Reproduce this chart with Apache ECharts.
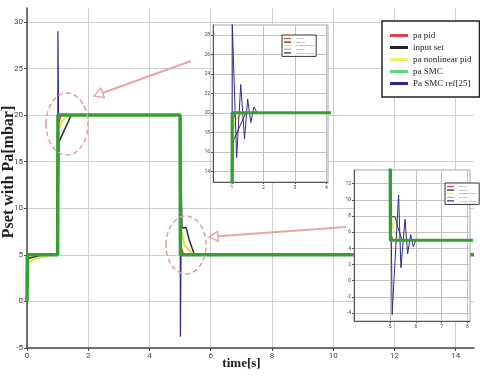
<!DOCTYPE html>
<html>
<head>
<meta charset="utf-8">
<script src="https://cdn.jsdelivr.net/npm/echarts@6/dist/echarts.min.js"></script>
<style>
  html, body { margin: 0; padding: 0; background: #fff; }
  #chart { width: 480px; height: 378px; }
</style>
</head>
<body>
<div id="chart"></div>
<script>
// series names, legend order
const legendNames = ['pa pid', 'input set', 'pa nonlinear pid', 'pa SMC', 'Pa SMC ref[25]'];
const yTitle = 'Pset with Pa[mbar]';

// [time s, pressure mbar]
const paPid = [[0, 0], [0.03, 5], [1, 5], [1.01, 19], [1.12, 20], [5, 20], [5.01, 6], [5.12, 5], [14.6, 5]];
const inputSet = [[0, 0], [0.04, 4.6], [0.5, 5], [1, 5], [1.04, 17.1], [1.1, 17.3], [1.25, 18.6], [1.43, 19.9], [1.5, 20],
  [5, 20], [5.06, 7.9], [5.2, 7.9], [5.3, 6.6], [5.47, 5], [14.6, 5]];
const paNonlinearPid = [[0, 0], [0.03, 4.2], [0.3, 4.6], [0.8, 5], [1, 5], [1.03, 18.5], [1.15, 19.4], [1.35, 20],
  [5, 20], [5.02, 8], [5.15, 6], [5.4, 5.1], [5.6, 5], [14.6, 5]];
const paSmc = [[0, 0], [0.01, 5], [1, 5], [1.01, 20], [5, 20], [5.01, 5], [14.6, 5]];
// zoomed views show the ringing of ref[25]
const paSmcRef = [[0, 0], [0.02, 5], [1, 5], [1.01, 29.2], [1.15, 15.4], [1.28, 22.9], [1.4, 17.3], [1.5, 21.4], [1.6, 19.0],
  [1.7, 20.6], [1.8, 20], [5, 20], [5.08, -4.2], [5.33, 10.6], [5.42, 1.6], [5.58, 7.6], [5.68, 3.3], [5.8, 5.7],
  [5.9, 4.2], [6.0, 5], [14.6, 5]];
// full view only shows the two spikes
const paSmcRefFull = [[0, 0], [0.02, 5], [1, 5], [1.01, 29], [1.03, 20], [5, 20], [5.01, -3.8], [5.03, 5], [14.6, 5]];

// tick values
const mainXTicks = [0, 2, 4, 6, 8, 10, 12, 14];
const mainYTicks = [-5, 0, 5, 10, 15, 20, 25, 30];
const zoom1XTicks = [1, 2, 3, 4];
const zoom1YTicks = [14, 16, 18, 20, 22, 24, 26, 28];
const zoom2XTicks = [5, 6, 7, 8];
const zoom2YTicks = [-4, -2, 0, 2, 4, 6, 8, 10, 12];

const chart = echarts.init(document.getElementById('chart'));

// drawing order: green on top
const lines = [
  { name: 'pa pid', data: [paPid, paPid], color: '#d83a3a', w: [1.5, 1] },
  { name: 'pa nonlinear pid', data: [paNonlinearPid, paNonlinearPid], color: '#e4e040', w: [2, 1.2] },
  { name: 'input set', data: [inputSet, inputSet], color: '#2e2e2e', w: [1.5, 1] },
  { name: 'Pa SMC ref[25]', data: [paSmcRefFull, paSmcRef], color: '#2c2c8c', w: [1.2, 1] },
  { name: 'pa SMC', data: [paSmc, paSmc], color: '#34a034', w: [3.5, 3.2] }
];
const legendColors = {
  'pa pid': '#d94848',
  'input set': '#222222',
  'pa nonlinear pid': '#f2ee6e',
  'pa SMC': '#5fd97a',
  'Pa SMC ref[25]': '#25258a'
};

const series = [];
[0, 1, 2].forEach(idx => {
  lines.forEach(l => {
    series.push({
      type: 'line',
      name: l.name,
      data: idx === 0 ? l.data[0] : l.data[1],
      xAxisIndex: idx,
      yAxisIndex: idx,
      showSymbol: false,
      symbol: 'none',
      z: idx === 0 ? 2 : 12,
      color: l.color,
      lineStyle: { color: l.color, width: idx === 0 ? l.w[0] : l.w[1] },
      clip: true
    });
  });
});

const serif = '"Liberation Serif", "DejaVu Serif", serif';

function mainAxis(extra) {
  return Object.assign({
    type: 'value',
    axisLine: { show: true, onZero: false, lineStyle: { color: '#4a4a4a', width: 1.5 } },
    splitLine: { show: true, lineStyle: { color: '#cfcfcf' } }
  }, extra);
}

function insetAxis(extra) {
  return Object.assign({
    type: 'value',
    z: 12,
    axisLine: { show: true, onZero: false, lineStyle: { color: '#555', width: 1 } },
    splitLine: { show: true, lineStyle: { color: '#c2c2c2' } }
  }, extra);
}

function mainTicks(values) {
  return {
    axisTick: { show: true, length: 3, customValues: values, lineStyle: { color: '#4a4a4a' } },
    axisLabel: { fontSize: 8, color: '#444', margin: 4, fontFamily: 'Roboto', customValues: values }
  };
}

function insetTicks(values) {
  return {
    axisTick: { show: true, length: 2, customValues: values, lineStyle: { color: '#555' } },
    axisLabel: { fontSize: 5, color: '#444', margin: 3, fontFamily: 'Roboto', customValues: values }
  };
}

function tinyLegend(left, top) {
  return {
    left: left, top: top, orient: 'vertical', z: 14,
    data: legendNames.map(n => ({ name: n, itemStyle: { color: legendColors[n] } })),
    icon: 'rect', itemWidth: 7, itemHeight: 1.2, itemGap: 0.6,
    padding: [2, 2, 2, 2],
    backgroundColor: '#fff', borderColor: '#333', borderWidth: 1,
    selectedMode: false,
    textStyle: { fontSize: 2.8, color: '#555', fontFamily: serif }
  };
}

const option = {
  animation: false,
  backgroundColor: '#ffffff',
  grid: [
    { left: 27, right: 6, top: 8, bottom: 30, outerBoundsMode: 'none', containLabel: false },
    { left: 213, top: 25, width: 115, height: 157, show: true, z: 10, outerBoundsMode: 'none',
      backgroundColor: '#ffffff', borderColor: '#a8a8a8', borderWidth: 1 },
    { left: 354, top: 170, width: 116, height: 151, show: true, z: 10, outerBoundsMode: 'none',
      backgroundColor: '#ffffff', borderColor: '#a8a8a8', borderWidth: 1 }
  ],
  xAxis: [
    mainAxis(Object.assign({
      gridIndex: 0, min: 0, max: 14.6,
      name: 'time[s]', nameLocation: 'middle', nameGap: 9, nameMoveOverlap: false,
      nameTextStyle: { fontFamily: serif, fontWeight: 'bold', fontSize: 13, color: '#222',
        verticalAlign: 'top', padding: [0, 18, 0, 0] }
    }, mainTicks(mainXTicks))),
    insetAxis(Object.assign({ gridIndex: 1, min: 0.4, max: 4.05 }, insetTicks(zoom1XTicks))),
    insetAxis(Object.assign({ gridIndex: 2, min: 3.6, max: 8.1 }, insetTicks(zoom2XTicks)))
  ],
  yAxis: [
    mainAxis(Object.assign({ gridIndex: 0, min: -5, max: 31.5 }, mainTicks(mainYTicks))),
    insetAxis(Object.assign({ gridIndex: 1, min: 12.9, max: 29 }, insetTicks(zoom1YTicks))),
    insetAxis(Object.assign({ gridIndex: 2, min: -5, max: 13.7 }, insetTicks(zoom2YTicks)))
  ],
  legend: [
    {
      left: 382, top: 21, orient: 'vertical', z: 14,
      data: legendNames.map(n => ({ name: n, itemStyle: { color: legendColors[n] } })),
      icon: 'rect', itemWidth: 18, itemHeight: 3, itemGap: 3,
      padding: [10, 8, 9, 8],
      backgroundColor: '#fff', borderColor: '#222', borderWidth: 1.5,
      selectedMode: false,
      textStyle: { fontSize: 9, color: '#222', fontFamily: serif }
    },
    tinyLegend(282, 35),
    tinyLegend(445, 183)
  ],
  series: series
};

chart.setOption(option);

// pink call-outs (decoration)
function arrow(x1, y1, x2, y2) {
  const dx = x2 - x1, dy = y2 - y1;
  const len = Math.sqrt(dx * dx + dy * dy);
  const ux = dx / len, uy = dy / len;
  const bx = x2 - ux * 9, by = y2 - uy * 9;
  return [
    { type: 'line', z: 20, shape: { x1: x1, y1: y1, x2: bx, y2: by },
      style: { stroke: '#eea3a3', lineWidth: 2 } },
    { type: 'polygon', z: 20,
      shape: { points: [[x2, y2], [bx - uy * 5, by + ux * 5], [bx + uy * 5, by - ux * 5]] },
      style: { stroke: '#eea3a3', lineWidth: 1.5, fill: '#fff' } }
  ];
}

chart.setOption({
  graphic: [
    { type: 'text', z: 20, x: 9, y: 172, rotation: Math.PI / 2,
      style: { text: yTitle, font: 'bold 16px ' + serif, fill: '#222', align: 'center', verticalAlign: 'middle' } },
    { type: 'ellipse', z: 20, shape: { cx: 67, cy: 124, rx: 21, ry: 31 },
      style: { stroke: '#e89a9a', lineWidth: 1.5, lineDash: [5, 3], fill: null } },
    { type: 'ellipse', z: 20, shape: { cx: 186, cy: 245, rx: 20, ry: 29 },
      style: { stroke: '#e89a9a', lineWidth: 1.5, lineDash: [5, 3], fill: null } }
  ].concat(arrow(191, 61, 94, 96), arrow(346, 227, 209, 237))
});
</script>
</body>
</html>
